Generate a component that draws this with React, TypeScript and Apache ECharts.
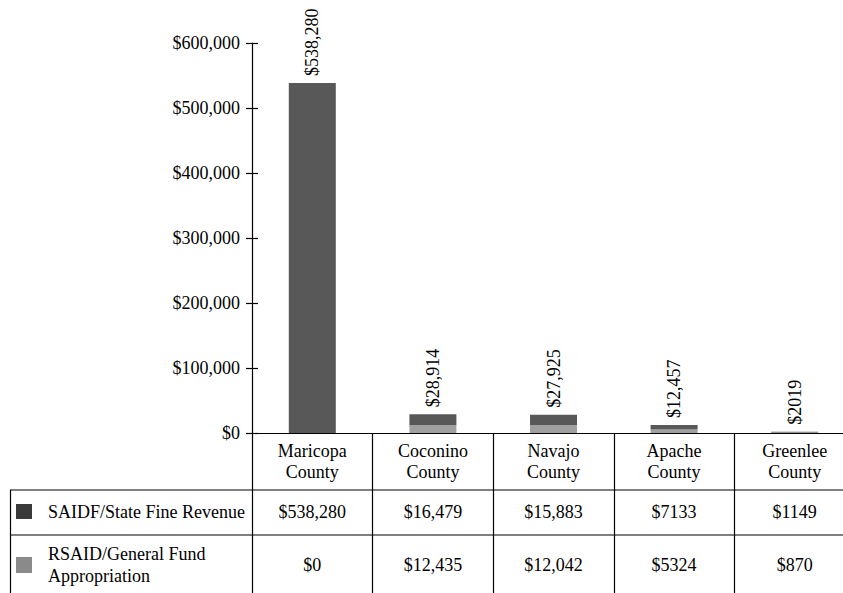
import React, { useEffect, useRef } from 'react';
import * as echarts from 'echarts';

const categories = ['Maricopa\nCounty', 'Coconino\nCounty', 'Navajo\nCounty', 'Apache\nCounty', 'Greenlee\nCounty'];
const saidfValues = [538280, 16479, 15883, 7133, 1149];
const rsaidValues = [0, 12435, 12042, 5324, 870];
const seriesNames = ['SAIDF/State Fine Revenue', 'RSAID/General Fund\nAppropriation'];
const yMin = 0;
const yMax = 600000;
const yStep = 100000;

const FONT = '"Liberation Serif", "Times New Roman", Times, serif';
const FS = 18;
const fmt = (n: number) => '$' + (n >= 10000 ? n.toLocaleString('en-US') : String(n));
const totals = saidfValues.map((v, i) => v + rsaidValues[i]);

const SAIDF_COLOR = '#585858';
const RSAID_COLOR = '#a0a0a0';

export default function App() {
  const ref = useRef<HTMLDivElement>(null);
  useEffect(() => {
    if (!ref.current) return;
    const chart = echarts.init(ref.current, undefined, { renderer: 'svg' });
    const tableLabel = (offset: number, data: string[]) => ({
      type: 'category',
      data,
      position: 'bottom',
      offset,
      gridIndex: 0,
      axisLine: { show: false },
      axisTick: { show: false },
      splitLine: { show: false },
      axisLabel: { interval: 0, color: '#000', fontSize: FS, lineHeight: 21, margin: 4, fontFamily: FONT },
    });
    const option: any = {
      animation: false,
      backgroundColor: '#ffffff',
      textStyle: { fontFamily: FONT },
      grid: { left: 252, right: -12, top: 43, bottom: 160, containLabel: false, outerBoundsMode: 'none' },
      xAxis: [
        {
          type: 'category',
          data: categories,
          position: 'bottom',
          axisLine: { show: true, lineStyle: { color: '#000', width: 1.2 } },
          axisTick: { show: true, length: 160, interval: 0, lineStyle: { color: '#000', width: 1.2 } },
          splitLine: { show: false },
          axisLabel: { interval: 0, color: '#000', fontSize: FS, lineHeight: 21, margin: 7, fontFamily: FONT },
        },
        tableLabel(64.5, saidfValues.map(fmt)),
        tableLabel(117.5, rsaidValues.map(fmt)),
      ],
      yAxis: [
        {
          type: 'value',
          min: yMin,
          max: yMax,
          interval: yStep,
          position: 'left',
          axisLine: { show: true, lineStyle: { color: '#000', width: 1.2 } },
          axisTick: { show: true, length: 6, lineStyle: { color: '#000', width: 1.2 } },
          splitLine: { show: false },
          axisLabel: {
            color: '#000',
            fontSize: FS,
            margin: 12,
            fontFamily: FONT,
            formatter: (v: number) => '$' + v.toLocaleString('en-US'),
          },
        },
        {
          type: 'value',
          min: yMin,
          max: yMax,
          interval: yStep,
          position: 'left',
          axisLine: { show: false },
          axisTick: { show: true, inside: true, length: 6, lineStyle: { color: '#000', width: 1.2 } },
          axisLabel: { show: false },
          splitLine: { show: false },
        },
      ],
      series: [
        {
          name: seriesNames[1],
          type: 'bar',
          stack: 'total',
          data: rsaidValues,
          barWidth: 47,
          itemStyle: { color: RSAID_COLOR },
        },
        {
          name: seriesNames[0],
          type: 'bar',
          stack: 'total',
          data: saidfValues,
          barWidth: 47,
          itemStyle: { color: SAIDF_COLOR },
          label: {
            show: true,
            position: 'top',
            rotate: 90,
            align: 'left',
            verticalAlign: 'middle',
            distance: 7,
            color: '#000',
            fontSize: FS,
            fontFamily: FONT,
            formatter: (p: any) => fmt(totals[p.dataIndex]),
          },
        },
      ],
      graphic: [
        { type: 'line', shape: { x1: 10, y1: 490, x2: 843, y2: 490 }, style: { stroke: '#000', lineWidth: 1.2 } },
        { type: 'line', shape: { x1: 10, y1: 535, x2: 843, y2: 535 }, style: { stroke: '#000', lineWidth: 1.2 } },
        { type: 'line', shape: { x1: 10.5, y1: 490, x2: 10.5, y2: 593 }, style: { stroke: '#000', lineWidth: 1.2 } },
        { type: 'rect', shape: { x: 16, y: 504, width: 16, height: 15 }, style: { fill: '#3a3a3a' } },
        { type: 'rect', shape: { x: 16, y: 557, width: 16, height: 16 }, style: { fill: '#8a8a8a' } },
        {
          type: 'text',
          x: 48,
          y: 512,
          style: { text: seriesNames[0], fill: '#000', fontSize: FS, fontFamily: FONT, verticalAlign: 'middle', align: 'left' },
        },
        {
          type: 'text',
          x: 48,
          y: 565,
          style: { text: seriesNames[1], fill: '#000', fontSize: FS, lineHeight: 22, fontFamily: FONT, verticalAlign: 'middle', align: 'left' },
        },
      ],
    };
    chart.setOption(option);
    return () => chart.dispose();
  }, []);
  return (
    <div
      ref={ref}
      style={{ position: 'fixed', left: 0, top: 0, width: 843, height: 593, background: '#fff' }}
    />
  );
}
